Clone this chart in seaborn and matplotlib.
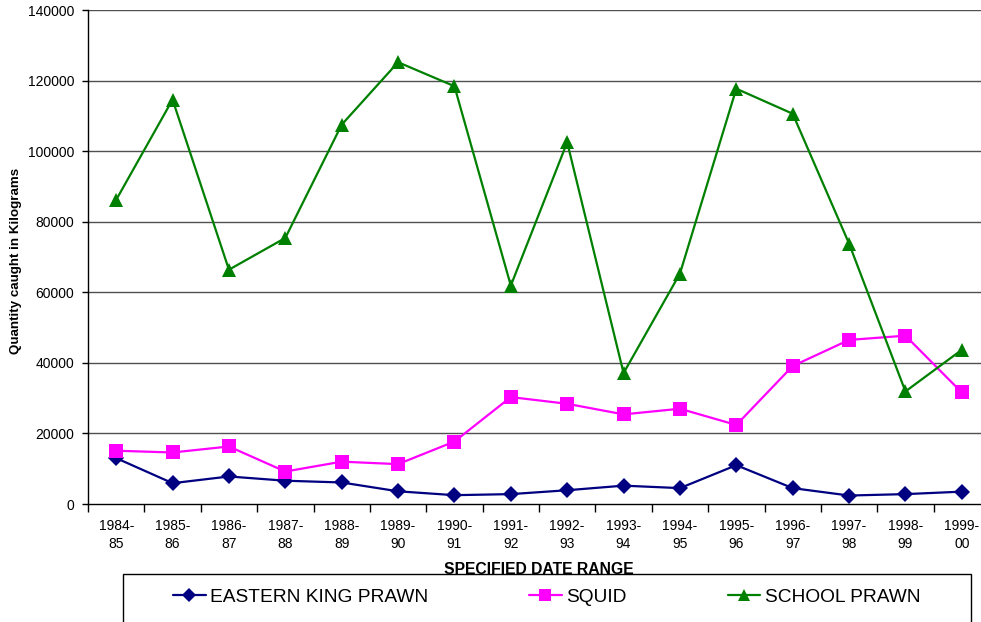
import numpy as np
import pandas as pd
import matplotlib
matplotlib.use("Agg")
import matplotlib.pyplot as plt
from matplotlib.patches import Rectangle
import seaborn as sns

# Catch by season (kg)
seasons = ["1984-\n85", "1985-\n86", "1986-\n87", "1987-\n88", "1988-\n89",
           "1989-\n90", "1990-\n91", "1991-\n92", "1992-\n93", "1993-\n94",
           "1994-\n95", "1995-\n96", "1996-\n97", "1997-\n98", "1998-\n99",
           "1999-\n00"]
eastern_king_prawn = [13000, 5900, 7800, 6600, 6100, 3600, 2500, 2800,
                      3900, 5200, 4500, 11000, 4500, 2400, 2800, 3500]
squid = [15100, 14600, 16300, 9200, 12000, 11300, 17700, 30300,
         28400, 25400, 27000, 22400, 39100, 46500, 47700, 31600]
school_prawn = [86200, 114600, 66400, 75400, 107500, 125200, 118400, 61900,
                102500, 37100, 65300, 117700, 110600, 73800, 31900, 43700]

series_names = ["EASTERN KING PRAWN", "SQUID", "SCHOOL PRAWN"]
series_colors = ["#000080", "#FF00FF", "#008000"]
series_markers = ["D", "s", "^"]
series_sizes = [8.0, 9.5, 10]

df = pd.DataFrame({
    "season": seasons * 3,
    "kg": eastern_king_prawn + squid + school_prawn,
    "species": np.repeat(series_names, len(seasons)),
})

sns.set_style("white")
plt.rcParams["font.family"] = ["Liberation Sans", "DejaVu Sans"]
plt.rcParams["text.color"] = "black"
plt.rcParams["axes.labelcolor"] = "black"

W, H = 981, 622
fig = plt.figure(figsize=(W / 100, H / 100), dpi=100)
ax = fig.add_axes([88 / W, 1 - 504 / H, (990 - 88) / W, (504 - 10) / H])

sns.lineplot(data=df, x="season", y="kg", hue="species", style="species",
             hue_order=series_names, style_order=series_names,
             palette=dict(zip(series_names, series_colors)),
             markers=dict(zip(series_names, series_markers)),
             dashes=False, linewidth=1.6, markeredgewidth=0,
             sort=False, ax=ax, legend=True)

# per-series marker sizes
for line, ms in zip(ax.lines[:3], series_sizes):
    line.set_markersize(ms)
    line.set_clip_on(False)

handles, labels = ax.get_legend_handles_labels()
ax.get_legend().remove()
for h, ms in zip(handles, series_sizes):
    h.set_markersize(ms * 0.9)
    h.set_linewidth(1.6)

ax.set_ylim(0, 140000)
ax.set_xlim(-0.5, len(seasons) - 0.5)
ax.set_yticks(np.arange(0, 140001, 20000))
ax.grid(False)
for v in np.arange(20000, 140001, 20000):
    ax.axhline(v, color="#505050", lw=1.0, zorder=0.5)

ax.set_xticks(np.arange(len(seasons)))
ax.set_xticklabels(seasons, linespacing=1.3)
ax.set_xticks(np.arange(len(seasons) + 1) - 0.5, minor=True)
ax.tick_params(axis="x", which="major", length=0, pad=11, labelsize=10,
               labelcolor="black")
ax.tick_params(axis="x", which="minor", length=6, width=1, direction="out",
               color="black", bottom=True)
ax.tick_params(axis="y", which="major", length=4, width=1, direction="out",
               pad=6, labelsize=10, colors="black", left=True)

for side in ["top", "right"]:
    ax.spines[side].set_visible(False)
for side in ["left", "bottom"]:
    ax.spines[side].set_color("black")
    ax.spines[side].set_linewidth(1)

ax.set_xlabel("")
ax.set_ylabel("")
fig.text(16 / W, 1 - 261 / H, "Quantity caught in Kilograms", rotation=90,
         ha="center", va="center", fontsize=9.6, fontweight="bold",
         color="black")
fig.text(539 / W, 1 - 569 / H, "SPECIFIED DATE RANGE", ha="center",
         va="center", fontsize=11.3, fontweight="bold", color="black")

# legend box running off the bottom edge
fig.add_artist(Rectangle((122.7 / W, -0.2), (970.7 - 122.7) / W,
                         0.2 + (1 - 574 / H), transform=fig.transFigure,
                         fill=False, ec="black", lw=1.0))
leg = fig.legend(handles, labels, loc="center left",
                 bbox_to_anchor=(173 / W, 1 - 597 / H), ncol=3, frameon=False,
                 fontsize=13.8, handlelength=1.7, handletextpad=0.25,
                 columnspacing=5.25, borderpad=0, borderaxespad=0)
for t in leg.get_texts():
    t.set_color("black")

fig.savefig("out.png", dpi=100)
